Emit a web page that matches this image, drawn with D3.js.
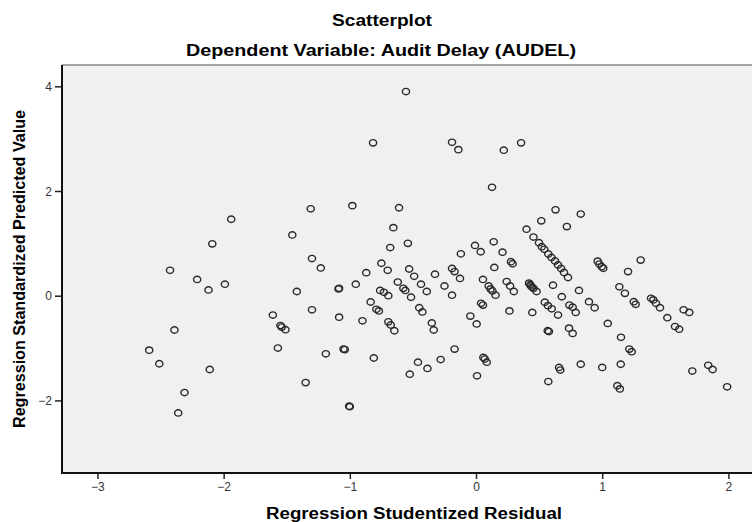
<!DOCTYPE html>
<html><head><meta charset="utf-8">
<script src="https://cdn.jsdelivr.net/npm/d3@7"></script>
<style>
html,body{margin:0;padding:0;background:#fff;}
svg{display:block;font-family:"Liberation Sans",Arial,sans-serif;}
</style></head>
<body><svg id="c" width="752" height="522"></svg>
<script>
const title = "Scatterplot";
const subtitle = "Dependent Variable: Audit Delay (AUDEL)";
const xLabel = "Regression Studentized Residual";
const yLabel = "Regression Standardized Predicted Value";
const xTicks = [-3,-2,-1,0,1,2];
const yTicks = [4,2,0,-2];

const residual = [-2.59,-2.51,-2.425,-2.39,-2.36,-2.31,-2.21,-2.12,-2.11,-2.09,-1.99,-1.94,
-1.61,-1.57,-1.55,-1.54,-1.51,-1.456,-1.42,-1.35,-1.31,-1.30,-1.30,-1.23,-1.19,-1.09,-1.085,-1.085,-1.05,-1.04,-1.005,-1.0,
-0.98,-0.953,-0.90,-0.87,-0.835,-0.816,-0.81,-0.79,-0.77,-0.76,-0.73,-0.695,-0.75,-0.70,-0.695,-0.676,-0.647,-0.68,-0.655,
-0.62,-0.61,-0.576,-0.56,-0.555,-0.54,-0.53,-0.525,-0.515,-0.49,-0.46,-0.45,-0.436,-0.425,-0.39,-0.385,-0.35,-0.335,-0.325,
-0.28,-0.25,-0.19,-0.19,-0.19,-0.17,-0.17,-0.14,-0.127,-0.12,-0.045,-0.008,0.005,0.008,0.037,0.04,0.055,0.055,0.058,0.07,0.085,
0.10,0.115,0.127,0.13,0.14,0.145,0.155,0.21,0.22,0.243,0.265,0.27,0.277,0.29,0.30,0.357,0.40,0.42,0.43,0.435,0.445,0.455,0.48,
0.446,0.455,0.499,0.521,0.541,0.573,0.598,0.626,0.650,0.674,0.697,0.729,0.517,0.545,0.57,0.60,0.65,0.568,0.578,0.573,0.61,0.63,
0.658,0.668,0.68,0.72,0.74,0.766,0.79,0.737,0.766,0.816,0.83,0.83,0.895,0.94,0.964,0.977,0.996,1.009,1.0,1.044,1.12,1.14,
1.136,1.18,1.147,1.149,1.205,1.215,1.234,1.25,1.265,1.305,1.387,1.405,1.426,1.458,1.516,1.577,1.61,1.645,1.69,1.714,1.84,1.875,1.99];

const predicted = [-1.04,-1.30,0.485,-0.655,-2.24,-1.85,0.31,0.11,-1.41,0.99,0.22,1.46,
-0.37,-1.00,-0.57,-0.60,-0.65,1.16,0.08,-1.66,1.66,0.71,-0.27,0.53,-1.11,0.13,0.14,-0.41,-1.02,-1.03,-2.11,-2.12,
1.72,0.22,-0.48,0.44,-0.12,2.92,-1.19,-0.26,-0.29,0.10,0.065,0.00,0.62,0.485,-0.50,-0.56,-0.67,0.92,1.30,
0.26,1.68,0.14,0.10,3.90,1.00,0.51,-1.50,-0.03,0.37,-1.27,-0.23,0.22,-0.31,0.08,-1.39,-0.52,-0.655,0.41,
-1.22,0.185,2.93,0.01,0.52,0.46,-1.02,2.79,0.33,0.80,-0.39,0.96,-0.54,-1.53,0.84,-0.145,-0.18,0.31,-1.18,-1.21,-1.27,
0.185,0.13,2.07,0.09,1.03,0.54,0.01,0.83,2.78,0.27,-0.29,0.185,0.65,0.61,0.08,2.92,1.27,0.24,0.21,0.185,0.16,0.14,0.08,
-0.32,1.12,1.012,0.936,0.886,0.797,0.730,0.663,0.586,0.520,0.443,0.348,1.43,-0.125,-0.19,-0.25,-0.37,-0.67,-0.685,-1.64,0.20,1.64,
-1.37,-1.42,-0.02,1.32,-0.18,-0.22,-0.32,-0.62,-0.72,0.10,1.56,-1.31,-0.115,-0.23,0.66,0.605,0.554,0.523,-1.37,-0.53,-1.72,-1.78,
0.17,0.045,-1.31,-0.795,0.46,-1.02,-1.07,-0.115,-0.165,0.68,-0.05,-0.08,-0.145,-0.23,-0.42,-0.59,-0.64,-0.27,-0.32,-1.44,-1.33,-1.41,-1.74];

const points = residual.map((r,i)=>({x:r,y:predicted[i]}));

const svg = d3.select("#c");
const L=62, R=753, T=65, B=473;
const x = d3.scaleLinear().domain([-3.281, 2.195]).range([L, R]);
const y = d3.scaleLinear().domain([-3.387, 4.407]).range([B, T]);

svg.append("rect").attr("x",L).attr("y",T).attr("width",R-L).attr("height",B-T).attr("fill","#f0f0f0");
svg.append("line").attr("x1",L).attr("x2",R).attr("y1",T).attr("y2",T).attr("stroke","#8a8a8a").attr("stroke-width",1.5);

// axes
const xa = svg.append("g").attr("transform",`translate(0,${B})`)
  .call(d3.axisBottom(x).tickValues(xTicks).tickSize(6).tickPadding(3).tickFormat(d3.format("d")));
const ya = svg.append("g").attr("transform",`translate(${L},0)`)
  .call(d3.axisLeft(y).tickValues(yTicks).tickSize(7).tickPadding(3).tickFormat(d3.format("d")));
[xa,ya].forEach(g=>{
  g.select(".domain").remove();
  g.selectAll(".tick line").attr("stroke","#222").attr("stroke-width",1.5);
  g.selectAll(".tick text").attr("fill","#333").style("font-size","12px").style("font-family","'Liberation Sans',Arial,sans-serif");
});
ya.selectAll(".tick text").attr("dy","0.35em");

svg.append("line").attr("x1",L).attr("x2",L).attr("y1",T).attr("y2",B+1).attr("stroke","#111").attr("stroke-width",2);
svg.append("line").attr("x1",L-1).attr("x2",R).attr("y1",B).attr("y2",B).attr("stroke","#111").attr("stroke-width",2);

// points
svg.append("g").selectAll("ellipse").data(points).join("ellipse")
  .attr("cx",d=>x(d.x)).attr("cy",d=>y(d.y)).attr("rx",3.6).attr("ry",3.2)
  .attr("fill","none").attr("stroke","#2a2a2a").attr("stroke-width",1.4);

// titles
svg.append("text").attr("x",382).attr("y",26).attr("text-anchor","middle")
  .style("font-weight","bold").style("font-size","16px")
  .attr("textLength",100).attr("lengthAdjust","spacingAndGlyphs").text(title);
svg.append("text").attr("x",381).attr("y",56).attr("text-anchor","middle")
  .style("font-weight","bold").style("font-size","16px")
  .attr("textLength",390).attr("lengthAdjust","spacingAndGlyphs").text(subtitle);
svg.append("text").attr("x",414).attr("y",519).attr("text-anchor","middle")
  .style("font-weight","bold").style("font-size","16px")
  .attr("textLength",296).attr("lengthAdjust","spacingAndGlyphs").text(xLabel);
svg.append("text").attr("transform","translate(25,269) rotate(-90)").attr("text-anchor","middle")
  .style("font-weight","bold").style("font-size","16px")
  .attr("textLength",318).attr("lengthAdjust","spacingAndGlyphs").text(yLabel);
</script></body></html>
